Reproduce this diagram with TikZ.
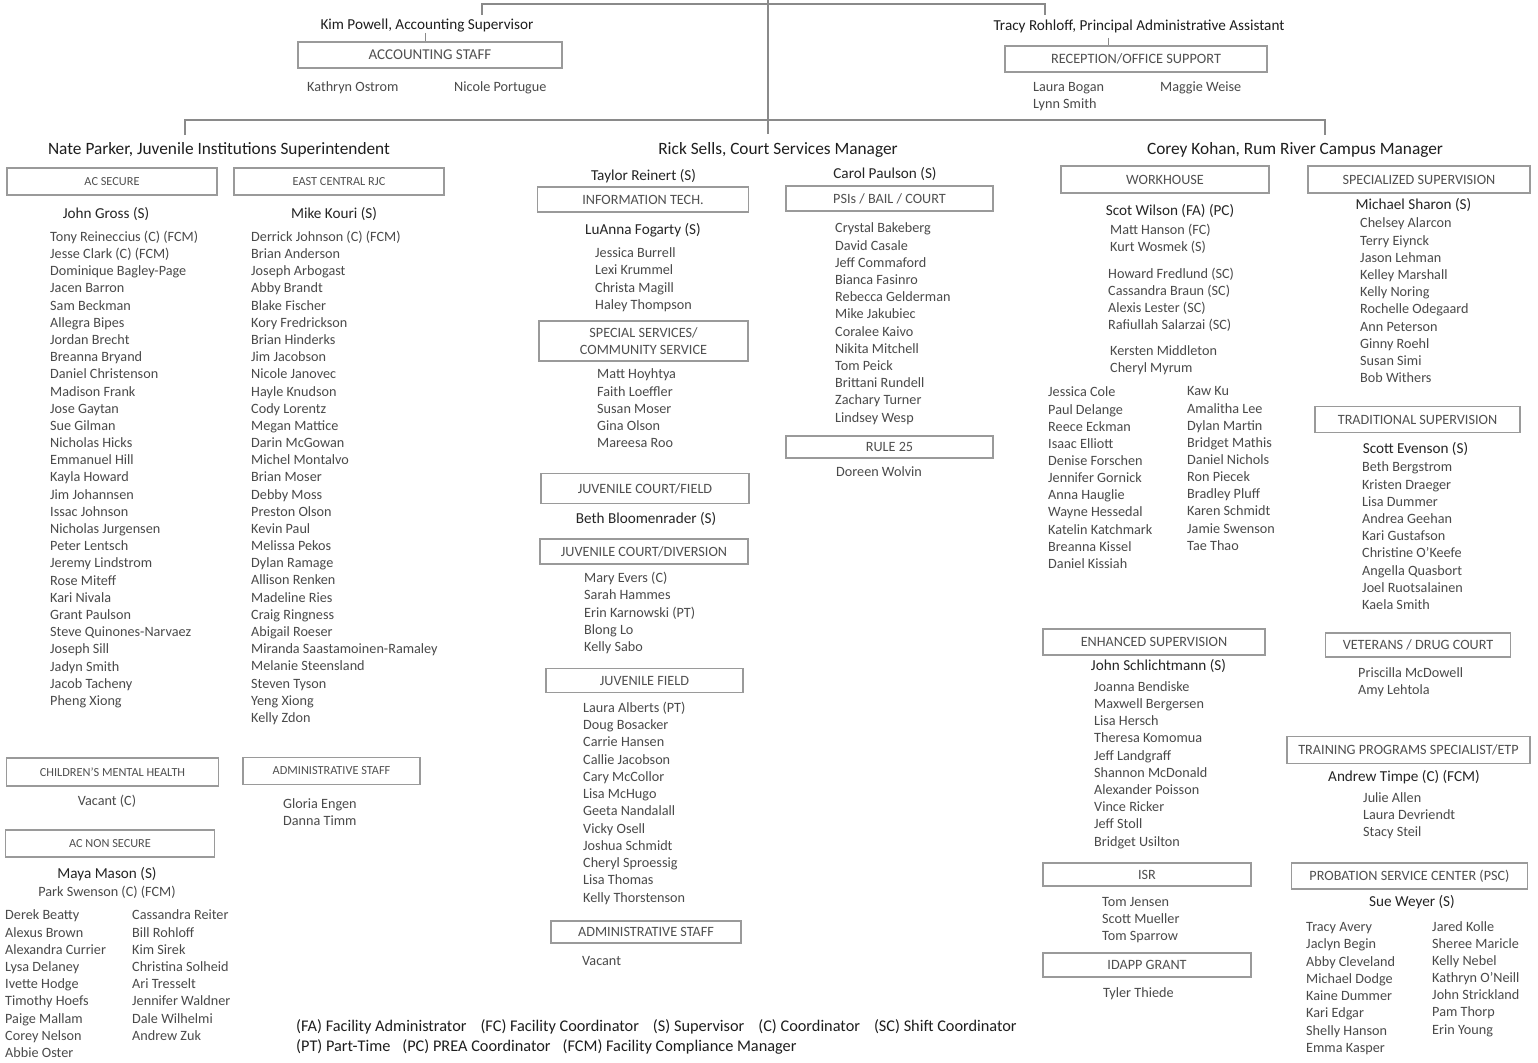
\documentclass[tikz,border=0pt]{standalone}
\usepackage{fontspec}
\setmainfont{Carlito}
\definecolor{headcol}{HTML}{1E1E1E}
\definecolor{supcol}{HTML}{252525}
\definecolor{nmcol}{HTML}{4A4A4A}
\definecolor{boxtext}{HTML}{505050}
\definecolor{boxdraw}{HTML}{9A9A9A}
\definecolor{linecol}{HTML}{8A8A8A}
\tikzset{
  nm/.style={anchor=mid west, inner sep=0pt, yshift=-3pt, text=nmcol, font=\fontsize{14.2}{17}\selectfont},
  nmc/.style={nm, anchor=mid},
  sup/.style={anchor=mid, inner sep=0pt, yshift=-3pt, text=supcol, font=\fontsize{15.2}{18}\selectfont},
  head/.style={anchor=mid, inner sep=0pt, yshift=-3pt, text=headcol, font=\fontsize{17.3}{20}\selectfont},
  ttl/.style={anchor=mid, inner sep=0pt, yshift=-3pt, text=headcol, font=\fontsize{15.2}{18}\selectfont},
  dbox/.style={draw=boxdraw, line width=1.3pt, inner sep=0pt, text=boxtext, align=center},
  boxL/.style={dbox, font=\fontsize{12.3}{15}\selectfont},
  boxM/.style={dbox, font=\fontsize{14.2}{17}\selectfont},
  legend/.style={anchor=mid west, inner sep=0pt, yshift=-3pt, text=headcol, font=\fontsize{16.3}{19}\selectfont},
  conn/.style={draw=linecol, line width=1.4pt},
}
\newcommand{\plist}[5]{\foreach \nmi [count=\k from 0] in {#5} {\node[nm] (#1\k) at (#2,{#3+\k*#4}) {\nmi};}}
\begin{document}
\begin{tikzpicture}[x=1pt,y=-1pt]
\fill[white] (0,0) rectangle (1538,1062);
\useasboundingbox (0,0) rectangle (1538,1062);

% ---------- top ----------
\node[ttl] (kim) at (427,24) {Kim Powell, Accounting Supervisor};
\node[dbox, font=\fontsize{15}{18}\selectfont, minimum width=264pt, minimum height=26pt] (accbox) at (430,55) {ACCOUNTING STAFF};
\node[nm] (kostrom) at (307,86) {Kathryn Ostrom};
\node[nm] (nportugue) at (454,86) {Nicole Portugue};

\node[ttl] (tracy) at (1139,25) {Tracy Rohloff, Principal Administrative Assistant};
\node[dbox, font=\fontsize{14.3}{17}\selectfont, minimum width=262pt, minimum height=26pt] (recbox) at (1136,59) {RECEPTION/OFFICE SUPPORT};
\node[nm] (lbogan) at (1033,86) {Laura Bogan};
\node[nm] (lsmith) at (1033,103) {Lynn Smith};
\node[nm] (mweise) at (1160,86) {Maggie Weise};

% ---------- managers ----------
\node[head] (nate) at (219,149) {Nate Parker, Juvenile Institutions Superintendent};
\node[head] (rick) at (778,149) {Rick Sells, Court Services Manager};
\node[head] (corey) at (1295,149) {Corey Kohan, Rum River Campus Manager};

% ---------- connectors ----------
\coordinate (topin) at (768,0);
\coordinate (rickin) at (768,134);
\draw[conn] (topin) -- (rickin);
\coordinate (kimin) at (482,15);
\coordinate (tracyin) at (1045,15);
\draw[conn] (kimin) -- ++(0,-11) -| (tracyin);
\coordinate (natein) at (185,135);
\coordinate (coreyin) at (1325,135);
\draw[conn] (natein) -- ++(0,-15) -| (coreyin);
\coordinate (kimtick) at (425,33);
\draw[conn, line width=1pt] (kimtick) -- (kimtick |- accbox.north);
\coordinate (trtick) at (1108,38);
\draw[conn, line width=1pt] (trtick) -- (trtick |- recbox.north);

% ---------- Nate Parker section ----------
\node[boxL, minimum width=210pt, minimum height=27pt] (acsec) at (112,181.5) {AC SECURE};
\node[boxL, minimum width=210pt, minimum height=27pt] (ecrjc) at (339,181.5) {EAST CENTRAL RJC};
\node[sup] (jgross) at (106,213) {John Gross (S)};
\node[sup] (mkouri) at (334,213) {Mike Kouri (S)};
\plist{acs}{50}{236}{17.185}{Tony Reineccius (C) (FCM), Jesse Clark (C) (FCM), Dominique Bagley-Page, Jacen Barron, Sam Beckman, Allegra Bipes, Jordan Brecht, Breanna Bryand, Daniel Christenson, Madison Frank, Jose Gaytan, Sue Gilman, Nicholas Hicks, Emmanuel Hill, Kayla Howard, Jim Johannsen, Issac Johnson, Nicholas Jurgensen, Peter Lentsch, Jeremy Lindstrom, Rose Miteff, Kari Nivala, Grant Paulson, Steve Quinones-Narvaez, Joseph Sill, Jadyn Smith, Jacob Tacheny, Pheng Xiong}
\plist{ecr}{251}{236}{17.18}{Derrick Johnson (C) (FCM), Brian Anderson, Joseph Arbogast, Abby Brandt, Blake Fischer, Kory Fredrickson, Brian Hinderks, Jim Jacobson, Nicole Janovec, Hayle Knudson, Cody Lorentz, Megan Mattice, Darin McGowan, Michel Montalvo, Brian Moser, Debby Moss, Preston Olson, Kevin Paul, Melissa Pekos, Dylan Ramage, Allison Renken, Madeline Ries, Craig Ringness, Abigail Roeser, Miranda Saastamoinen-Ramaley, Melanie Steensland, Steven Tyson, Yeng Xiong, Kelly Zdon}

\node[boxL, minimum width=212pt, minimum height=28pt] (cmh) at (112.5,772) {CHILDREN'S MENTAL HEALTH};
\node[nmc] (cmhvac) at (107,800) {Vacant (C)};
\node[boxL, minimum width=177pt, minimum height=27pt] (admL) at (331.5,771) {ADMINISTRATIVE STAFF};
\plist{adl}{283}{803}{17}{Gloria Engen, Danna Timm}
\node[boxL, minimum width=209pt, minimum height=27pt] (acnon) at (110,843.5) {AC NON SECURE};
\node[sup] (mmason) at (107,873) {Maya Mason (S)};
\node[nmc] (pswenson) at (107,891.5) {Park Swenson (C) (FCM)};
\plist{acna}{5}{914.5}{17.2}{Derek Beatty, Alexus Brown, Alexandra Currier, Lysa Delaney, Ivette Hodge, Timothy Hoefs, Paige Mallam, Corey Nelson, Abbie Oster}
\plist{acnb}{132}{914.5}{17.2}{Cassandra Reiter, Bill Rohloff, Kim Sirek, Christina Solheid, Ari Tresselt, Jennifer Waldner, Dale Wilhelmi, Andrew Zuk}

% ---------- Rick Sells section ----------
\node[sup] (treinert) at (643.5,175) {Taylor Reinert (S)};
\node[boxM, minimum width=211pt, minimum height=25pt] (itbox) at (643,199.5) {INFORMATION TECH.};
\node[sup] (lfogarty) at (643,229) {LuAnna Fogarty (S)};
\plist{it}{595}{252}{17.33}{Jessica Burrell, Lexi Krummel, Christa Magill, Haley Thompson}
\node[boxM, minimum width=209pt, minimum height=40pt] (ssbox) at (643.5,341) {SPECIAL SERVICES/\\COMMUNITY SERVICE};
\plist{ss}{597}{373.5}{17.2}{Matt Hoyhtya, Faith Loeffler, Susan Moser, Gina Olson, Mareesa Roo}
\node[boxM, minimum width=208pt, minimum height=30pt] (jcf) at (645,488.5) {JUVENILE COURT/FIELD};
\node[sup] (bbloom) at (646,518.5) {Beth Bloomenrader (S)};
\node[boxM, minimum width=208pt, minimum height=25pt] (jcd) at (644,551.5) {JUVENILE COURT/DIVERSION};
\plist{jcd}{584}{577.5}{17.1}{Mary Evers (C), Sarah Hammes, Erin Karnowski (PT), Blong Lo, Kelly Sabo}
\node[boxM, minimum width=197pt, minimum height=24pt] (jf) at (644.5,680.5) {JUVENILE FIELD};
\plist{jf}{583}{707}{17.25}{Laura Alberts (PT), Doug Bosacker, Carrie Hansen, Callie Jacobson, Cary McCollor, Lisa McHugo, Geeta Nandalall, Vicky Osell, Joshua Schmidt, Cheryl Sproessig, Lisa Thomas, Kelly Thorstenson}
\node[boxM, minimum width=190pt, minimum height=22pt] (admM) at (646,932) {ADMINISTRATIVE STAFF};
\node[nm] (mvacant) at (582,960) {Vacant};

\node[sup] (cpaulson) at (885,173) {Carol Paulson (S)};
\node[boxM, minimum width=207pt, minimum height=25pt] (psi) at (889.5,198.5) {PSIs / BAIL / COURT};
\plist{psi}{835}{227.5}{17.2}{Crystal Bakeberg, David Casale, Jeff Commaford, Bianca Fasinro, Rebecca Gelderman, Mike Jakubiec, Coralee Kaivo, Nikita Mitchell, Tom Peick, Brittani Rundell, Zachary Turner, Lindsey Wesp}
\node[boxM, minimum width=207pt, minimum height=22pt] (rule) at (889.5,447) {RULE 25};
\node[nm] (dwolvin) at (836,471) {Doreen Wolvin};

% ---------- Corey Kohan section ----------
\node[boxM, minimum width=208pt, minimum height=27pt] (work) at (1165,179.5) {WORKHOUSE};
\node[sup] (swilson) at (1170,210) {Scot Wilson (FA) (PC)};
\plist{wha}{1110}{229}{17}{Matt Hanson (FC), Kurt Wosmek (S)}
\plist{whb}{1108}{273}{17}{Howard Fredlund (SC), Cassandra Braun (SC), Alexis Lester (SC), Rafiullah Salarzai (SC)}
\plist{whc}{1110}{350}{17}{Kersten Middleton, Cheryl Myrum}
\plist{whd}{1048}{391.5}{17.15}{Jessica Cole, Paul Delange, Reece Eckman, Isaac Elliott, Denise Forschen, Jennifer Gornick, Anna Hauglie, Wayne Hessedal, Katelin Katchmark, Breanna Kissel, Daniel Kissiah}
\plist{whe}{1187}{390.5}{17.15}{Kaw Ku, Amalitha Lee, Dylan Martin, Bridget Mathis, Daniel Nichols, Ron Piecek, Bradley Pluff, Karen Schmidt, Jamie Swenson, Tae Thao}

\node[boxM, minimum width=222pt, minimum height=26pt] (enh) at (1154,642) {ENHANCED SUPERVISION};
\node[sup] (jschl) at (1158.5,665) {John Schlichtmann (S)};
\plist{enh}{1094}{686}{17.2}{Joanna Bendiske, Maxwell Bergersen, Lisa Hersch, Theresa Komomua, Jeff Landgraff, Shannon McDonald, Alexander Poisson, Vince Ricker, Jeff Stoll, Bridget Usilton}
\node[boxM, minimum width=208pt, minimum height=23pt] (isr) at (1147,874.5) {ISR};
\plist{isr}{1102}{901}{17}{Tom Jensen, Scott Mueller, Tom Sparrow}
\node[boxM, minimum width=208pt, minimum height=24pt] (idapp) at (1147,965) {IDAPP GRANT};
\node[nm] (tthiede) at (1103,992) {Tyler Thiede};

\node[boxM, minimum width=222pt, minimum height=27pt] (spec) at (1419,179.5) {SPECIALIZED SUPERVISION};
\node[sup] (msharon) at (1413.5,204) {Michael Sharon (S)};
\plist{spec}{1360}{222.5}{17.2}{Chelsey Alarcon, Terry Eiynck, Jason Lehman, Kelley Marshall, Kelly Noring, Rochelle Odegaard, Ann Peterson, Ginny Roehl, Susan Simi, Bob Withers}
\node[boxM, minimum width=205pt, minimum height=26pt] (trad) at (1417.5,419.5) {TRADITIONAL SUPERVISION};
\node[sup] (sevenson) at (1415.5,448.5) {Scott Evenson (S)};
\plist{trad}{1362}{466.5}{17.2}{Beth Bergstrom, Kristen Draeger, Lisa Dummer, Andrea Geehan, Kari Gustafson, Christine O'Keefe, Angella Quasbort, Joel Ruotsalainen, Kaela Smith}
\node[boxM, minimum width=185pt, minimum height=24pt] (vet) at (1418,645) {VETERANS / DRUG COURT};
\plist{vet}{1358}{672}{17}{Priscilla McDowell, Amy Lehtola}
\node[boxM, minimum width=243pt, minimum height=27pt] (train) at (1408.5,750) {TRAINING PROGRAMS SPECIALIST/ETP};
\node[sup] (atimpe) at (1404,776.5) {Andrew Timpe (C) (FCM)};
\plist{trn}{1363}{797}{17.3}{Julie Allen, Laura Devriendt, Stacy Steil}
\node[boxM, minimum width=236pt, minimum height=26pt] (psc) at (1409.5,876) {PROBATION SERVICE CENTER (PSC)};
\node[sup] (sweyer) at (1412,901) {Sue Weyer (S)};
\plist{psca}{1306}{926}{17.3}{Tracy Avery, Jaclyn Begin, Abby Cleveland, Michael Dodge, Kaine Dummer, Kari Edgar, Shelly Hanson, Emma Kasper}
\plist{pscb}{1432}{926}{17.1}{Jared Kolle, Sheree Maricle, Kelly Nebel, Kathryn O'Neill, John Strickland, Pam Thorp, Erin Young}

% ---------- legend ----------
\node[legend] (leg1) at (296,1026) {(FA) Facility Administrator\hspace{14pt}(FC) Facility Coordinator\hspace{14pt}(S) Supervisor\hspace{14pt}(C) Coordinator\hspace{14pt}(SC) Shift Coordinator};
\node[legend] (leg2) at (296,1046) {(PT) Part-Time\hspace{12pt}(PC) PREA Coordinator\hspace{12pt}(FCM) Facility Compliance Manager};
\end{tikzpicture}
\end{document}
